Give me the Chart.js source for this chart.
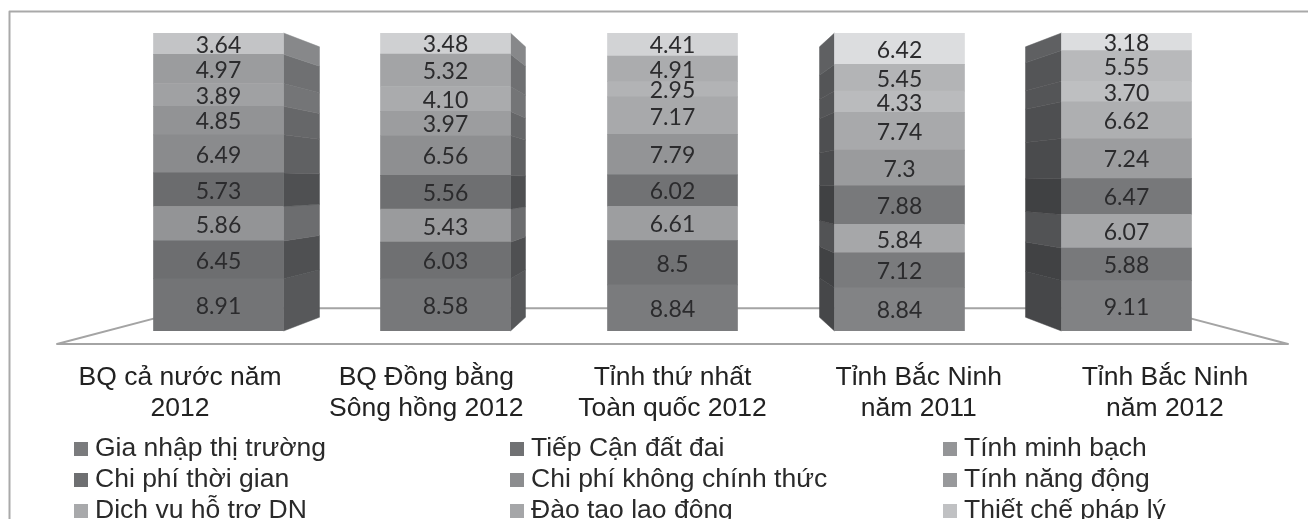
<!DOCTYPE html>
<html lang="vi">
<head>
<meta charset="utf-8">
<title>Chỉ số PCI</title>
<script src="https://cdn.jsdelivr.net/npm/chart.js@4"></script>
<style>
  html, body { margin: 0; padding: 0; background: #fff; overflow: hidden; }
  canvas { display: block; }
</style>
</head>
<body>
<canvas id="pci" width="1308" height="519"></canvas>
<script>
// Column captions
const categories = [
  ["BQ cả nước năm", "2012"],
  ["BQ Đồng bằng", "Sông hồng 2012"],
  ["Tỉnh thứ nhất", "Toàn quốc 2012"],
  ["Tỉnh Bắc Ninh", "năm 2011"],
  ["Tỉnh Bắc Ninh", "năm 2012"]
];

// Component scores, one list per component, bottom of the stack first
const giaNhapThiTruong = [8.91, 8.58, 8.84, 8.84, 9.11];
const tiepCanDatDai    = [6.45, 6.03, 8.5, 7.12, 5.88];
const tinhMinhBach     = [5.86, 5.43, 6.61, 5.84, 6.07];
const chiPhiThoiGian   = [5.73, 5.56, 6.02, 7.88, 6.47];
const chiPhiKhongCT    = [6.49, 6.56, 7.79, 7.3, 7.24];
const tinhNangDong     = [4.85, 3.97, 7.17, 7.74, 6.62];
const dichVuHoTro      = [3.89, 4.10, 2.95, 4.33, 3.70];
const daoTaoLaoDong    = [4.97, 5.32, 4.91, 5.45, 5.55];
const thietChephapLy   = [3.64, 3.48, 4.41, 6.42, 3.18];

const seriesNames = [
  "Gia nhập thị trường", "Tiếp Cận đất đai", "Tính minh bạch",
  "Chi phí thời gian", "Chi phí không chính thức", "Tính năng động",
  "Dịch vụ hỗ trợ DN", "Đào tạo lao động", "Thiết chế pháp lý"
];
const seriesValues = [
  giaNhapThiTruong, tiepCanDatDai, tinhMinhBach,
  chiPhiThoiGian, chiPhiKhongCT, tinhNangDong,
  dichVuHoTro, daoTaoLaoDong, thietChephapLy
];

// Grey levels: front faces per series and column, then side faces
const frontGreys = [
  [115, 119, 122, 130, 129],
  [109, 111, 113, 122, 120],
  [147, 154, 157, 166, 165],
  [107, 110, 113, 120, 119],
  [138, 142, 147, 154, 156],
  [146, 156, 168, 168, 174],
  [160, 170, 178, 186, 190],
  [155, 163, 171, 179, 184],
  [195, 207, 210, 220, 220]
];
const rightSideGreys = [87, 79, 108, 79, 96, 102, 116, 111, 135];
const leftSideGreys  = [70, 65, 82, 64, 74, 78, 84, 84, 95];
const legendGreys    = [122, 112, 148, 110, 140, 152, 168, 165, 192];

const grey = g => `rgb(${g},${g + 1},${g + 3})`;

// Every column fills the same height, so each score is drawn as its share of the column total
const columnTotals = categories.map((_, c) => seriesValues.reduce((sum, s) => sum + s[c], 0));

const datasets = seriesNames.map((name, s) => ({
  label: name,
  xAxisID: "xBars",
  yAxisID: "y",
  data: seriesValues[s].map((v, c) => ({ x: c, y: v / columnTotals[c] * 100 })),
  backgroundColor: frontGreys[s].map(grey),
  borderWidth: 0,
  barThickness: 130
}));

// Perspective of the 3D look: side faces recede toward a common point
const recede = 0.0925;
const floorRecede = 0.222;

const perspectivePlugin = {
  id: "perspective",
  beforeDatasetsDraw(chart) {
    const { ctx, chartArea: a } = chart;
    const vx = (a.left + a.right) / 2;
    const vy = (a.top + a.bottom) / 2 + 0.5;
    const back = (x, y, k) => [vx + (x - vx) * (1 - k), vy + (y - vy) * (1 - k)];

    // Frame of the chart, open on the right and at the bottom
    ctx.save();
    ctx.lineJoin = "round";
    ctx.strokeStyle = "#a9a9a9";
    ctx.lineWidth = 2;
    ctx.beginPath();
    ctx.moveTo(9.5, chart.height);
    ctx.lineTo(9.5, 11.5);
    ctx.lineTo(chart.width, 11.5);
    ctx.stroke();

    // Floor outline
    const fy = a.bottom + 13;
    const [blx, bly] = back(a.left, fy, floorRecede);
    const [brx] = back(a.right, fy, floorRecede);
    ctx.strokeStyle = "#a4a4a4";
    ctx.beginPath();
    ctx.moveTo(a.left, fy);
    ctx.lineTo(a.right, fy);
    ctx.lineTo(brx, bly);
    ctx.lineTo(blx, bly);
    ctx.closePath();
    ctx.stroke();

    // Side faces of each stack segment
    chart.data.datasets.forEach((ds, s) => {
      chart.getDatasetMeta(s).data.forEach(bar => {
        const left = bar.x - bar.width / 2;
        const right = bar.x + bar.width / 2;
        let edge = null, fill = null;
        if (right < vx) { edge = right; fill = rightSideGreys[s]; }
        else if (left > vx) { edge = left; fill = leftSideGreys[s]; }
        if (edge === null) return;
        const p1 = back(edge, bar.y, recede);
        const p2 = back(edge, bar.base, recede);
        ctx.fillStyle = grey(fill);
        ctx.strokeStyle = grey(fill);
        ctx.lineWidth = 0.5;
        ctx.beginPath();
        ctx.moveTo(edge, bar.y);
        ctx.lineTo(p1[0], p1[1]);
        ctx.lineTo(p2[0], p2[1]);
        ctx.lineTo(edge, bar.base);
        ctx.closePath();
        ctx.fill();
        ctx.stroke();
      });
    });
    ctx.restore();
  },
  afterDatasetsDraw(chart) {
    const { ctx } = chart;
    ctx.save();
    ctx.font = '23px Lato, "Open Sans", sans-serif';
    ctx.fillStyle = "#2b2b2d";
    ctx.textAlign = "center";
    ctx.textBaseline = "middle";
    chart.data.datasets.forEach((ds, s) => {
      chart.getDatasetMeta(s).data.forEach((bar, c) => {
        const value = seriesValues[s][c];
        // The support-services row keeps two decimals throughout
        const text = seriesValues[s] === dichVuHoTro ? value.toFixed(2) : String(value);
        ctx.fillText(text, bar.x, (bar.y + bar.base) / 2 + 1.5);
      });
    });
    ctx.restore();
  },
  afterDraw(chart) {
    // Three-column legend below the captions
    const { ctx } = chart;
    const squareX = [74, 510, 943];
    const rowY = [456, 487, 518];
    ctx.save();
    ctx.font = '26.5px "Liberation Sans", Arial, sans-serif';
    ctx.textAlign = "left";
    ctx.textBaseline = "alphabetic";
    chart.data.datasets.forEach((ds, s) => {
      const x = squareX[s % 3];
      const y = rowY[Math.floor(s / 3)];
      ctx.fillStyle = grey(legendGreys[s]);
      ctx.fillRect(x, y - 14, 14, 14);
      ctx.fillStyle = "#2a2a2a";
      ctx.fillText(ds.label, x + 21, y);
    });
    ctx.restore();
  }
};

new Chart(document.getElementById("pci"), {
  type: "bar",
  data: { labels: categories, datasets },
  plugins: [perspectivePlugin],
  options: {
    responsive: false,
    animation: false,
    events: [],
    layout: { padding: { left: 57, right: 20, top: 33, bottom: 0 } },
    plugins: { legend: { display: false }, title: { display: false }, tooltip: { enabled: false } },
    scales: {
      // Caption axis spans the full floor width
      x: {
        type: "category",
        offset: true,
        position: "bottom",
        grid: { display: false },
        border: { display: false },
        afterFit(scale) { scale.height = 188; },
        ticks: {
          autoSkip: false,
          maxRotation: 0,
          padding: 23,
          color: "#222",
          font: { family: '"Liberation Sans", Arial, sans-serif', size: 26.5, lineHeight: 1.17 }
        }
      },
      // Stacks stand further back than the captions, so they sit on a narrower axis
      xBars: {
        type: "linear",
        display: false,
        offset: false,
        stacked: true,
        min: -0.7115,
        max: 4.7115,
        grid: { display: false }
      },
      y: {
        type: "linear",
        display: false,
        stacked: true,
        min: 0,
        max: 100,
        grid: { display: false }
      }
    }
  }
});
</script>
</body>
</html>
